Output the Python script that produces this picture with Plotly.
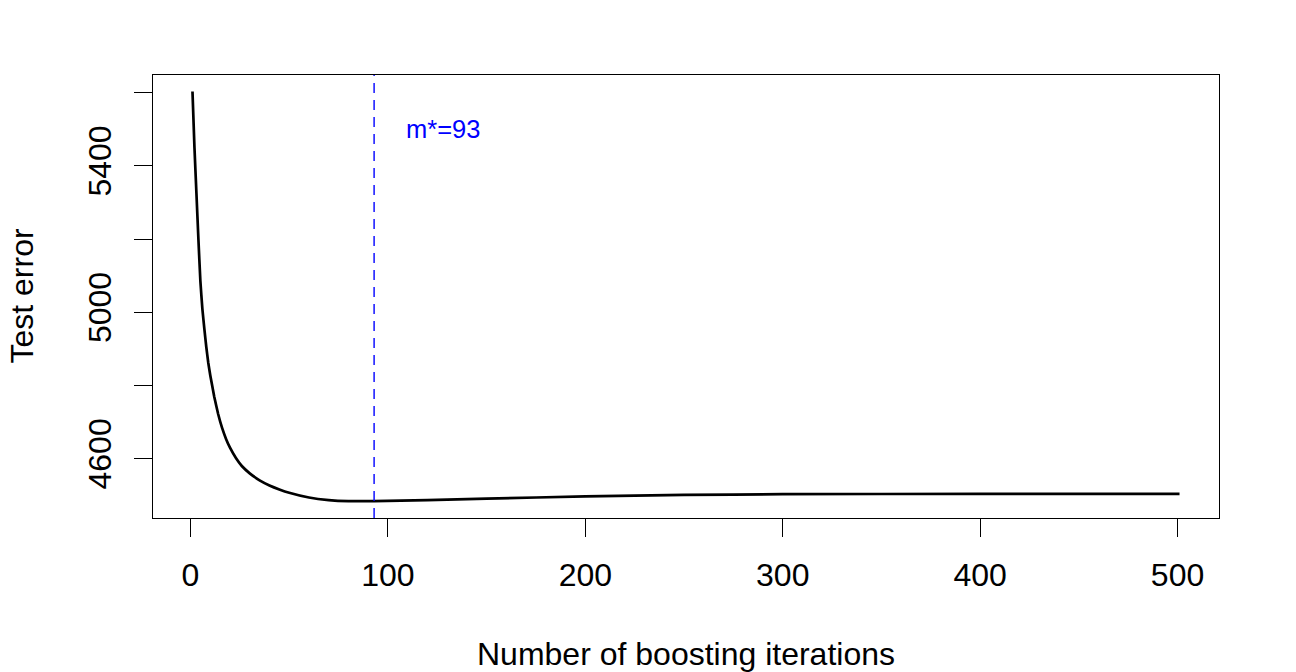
import plotly.graph_objects as go

iterations = [1, 2, 3, 4, 5, 6, 7, 8, 9, 10, 12, 14, 16, 18, 20, 23, 26, 30, 35, 40, 45, 50,
              60, 70, 80, 93, 120, 150, 200, 250, 300, 400, 501]
test_error = [5603, 5450, 5325, 5200, 5085, 5010, 4955, 4905, 4862, 4828, 4770, 4722, 4684,
              4654, 4630, 4602, 4580, 4560, 4541, 4527, 4516, 4507,
              4494, 4487, 4484, 4484, 4487, 4491, 4497, 4501, 4503, 4504, 4504]

m_star = 93
label_text = "m*=93"
label_x = 128
label_y = 5500

x_ticks = [0, 100, 200, 300, 400, 500]
y_ticks = [4600, 4800, 5000, 5200, 5400, 5600]
y_ticktext = ["4600", "", "5000", "", "5400", ""]

FONT = "Liberation Sans, Arial, Helvetica, sans-serif"

fig = go.Figure()
fig.add_trace(go.Scatter(
    x=iterations, y=test_error, mode="lines",
    line=dict(color="black", width=2.7, shape="spline", smoothing=0.3),
    showlegend=False, hoverinfo="skip"))

fig.add_shape(type="line", xref="x", yref="paper", x0=m_star, x1=m_star, y0=0, y1=1,
              line=dict(color="#0000FF", width=1.4, dash="10px,7px"))

fig.add_annotation(x=label_x, y=label_y, xref="x", yref="y", text=label_text,
                   showarrow=False, font=dict(family=FONT, size=25.5, color="#0000FF"),
                   xanchor="center", yanchor="middle")

fig.add_annotation(x=0.5, y=0, xref="paper", yref="paper", text="Number of boosting iterations",
                   showarrow=False, font=dict(family=FONT, size=32, color="black"),
                   xanchor="center", yanchor="middle", yshift=-136)
fig.add_annotation(x=0, y=0.5, xref="paper", yref="paper", text="Test error", textangle=-90,
                   showarrow=False, font=dict(family=FONT, size=32, color="black"),
                   xanchor="center", yanchor="middle", xshift=-132)

axis_common = dict(showline=True, linecolor="black", linewidth=1.3, mirror=True,
                   ticks="outside", ticklen=18, tickwidth=1.3, tickcolor="black",
                   showgrid=False, zeroline=False,
                   tickfont=dict(family=FONT, size=32, color="black"))

# page body has an 8px default margin, so the figure is sized to fit the window
fig.update_layout(
    width=1288, height=664,
    margin=dict(l=145, r=77, t=67, b=154),
    paper_bgcolor="white", plot_bgcolor="white",
    xaxis=dict(range=[-19, 521], tickvals=x_ticks, ticktext=[str(v) for v in x_ticks],
               ticklabelstandoff=10, **axis_common),
    yaxis=dict(range=[4438, 5648], tickvals=y_ticks, ticktext=y_ticktext, tickangle=-90,
               ticklabelstandoff=10, **axis_common),
)

fig.write_html("out.html")
